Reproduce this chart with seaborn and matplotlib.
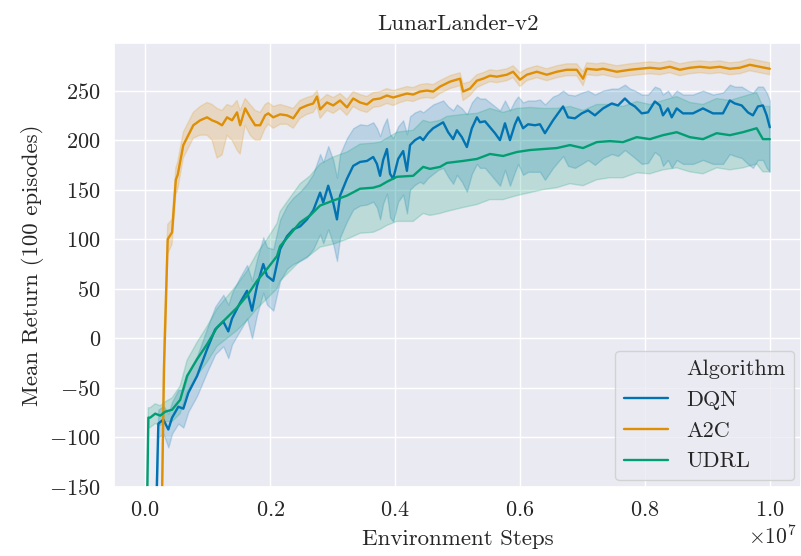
import numpy as np
import pandas as pd
import matplotlib
matplotlib.use("Agg")
import matplotlib.pyplot as plt
from matplotlib.lines import Line2D
import seaborn as sns

# Environment steps (x 1e7) with mean return and band edges
dqn_steps = [0.000, 0.015, 0.021, 0.029, 0.037, 0.043, 0.053, 0.061, 0.069, 0.083,
             0.099, 0.112, 0.125, 0.133, 0.139, 0.152, 0.163, 0.171, 0.179, 0.189,
             0.195, 0.205, 0.216, 0.227, 0.237, 0.248, 0.259, 0.269, 0.280, 0.285,
             0.293, 0.301, 0.307, 0.312, 0.323, 0.333, 0.344, 0.355, 0.365, 0.371,
             0.376, 0.381, 0.387, 0.392, 0.397, 0.405, 0.413, 0.419, 0.424, 0.432,
             0.440, 0.445, 0.453, 0.461, 0.469, 0.477, 0.485, 0.493, 0.499, 0.507,
             0.515, 0.523, 0.531, 0.536, 0.544, 0.552, 0.560, 0.568, 0.576, 0.584,
             0.592, 0.597, 0.605, 0.613, 0.624, 0.632, 0.640, 0.653, 0.661, 0.669,
             0.677, 0.688, 0.699, 0.709, 0.720, 0.733, 0.747, 0.757, 0.768, 0.776,
             0.784, 0.795, 0.805, 0.816, 0.824, 0.829, 0.837, 0.843, 0.851, 0.861,
             0.877, 0.893, 0.909, 0.925, 0.936, 0.944, 0.955, 0.965, 0.973, 0.981,
             0.989, 0.995, 1.000]
dqn_mean = [-260, -240, -86, -82, -92, -80, -69, -71, -55, -38,
            -11, 9, 17, 7, 20, 36, 48, 28, 53, 75,
            63, 58, 90, 103, 110, 113, 120, 129, 147, 137,
            154, 137, 120, 144, 161, 174, 178, 179, 183, 176,
            164, 180, 191, 166, 161, 181, 189, 169, 195, 200,
            203, 200, 207, 212, 215, 218, 208, 201, 210, 203,
            193, 212, 223, 218, 219, 213, 207, 200, 217, 200,
            216, 223, 212, 216, 215, 216, 207, 220, 227, 234,
            223, 222, 227, 230, 225, 232, 237, 235, 242, 237,
            234, 227, 228, 239, 235, 225, 232, 223, 232, 227,
            227, 232, 227, 227, 240, 237, 235, 228, 225, 234,
            235, 225, 213]
dqn_low = [-300, -280, -100, -96, -110, -96, -86, -90, -74, -58,
           -34, -16, -8, -20, -6, 8, 20, 0, 24, 46,
           34, 28, 58, 70, 75, 78, 82, 90, 105, 96,
           110, 95, 78, 102, 118, 130, 134, 135, 138, 132,
           120, 136, 146, 122, 118, 138, 145, 126, 150, 155,
           158, 156, 162, 166, 170, 172, 163, 156, 165, 158,
           148, 166, 176, 172, 172, 166, 160, 154, 170, 154,
           168, 176, 165, 168, 168, 168, 160, 172, 178, 184,
           174, 172, 176, 180, 175, 182, 186, 184, 190, 186,
           182, 176, 177, 188, 184, 174, 180, 172, 180, 176,
           176, 180, 176, 176, 186, 184, 182, 176, 172, 180,
           180, 172, 168]
dqn_high = [-220, -200, -72, -68, -76, -64, -52, -52, -36, -18,
            10, 32, 44, 34, 46, 62, 74, 58, 80, 102,
            92, 90, 120, 134, 142, 148, 156, 166, 186, 178,
            194, 180, 162, 186, 202, 212, 216, 215, 218, 212,
            204, 214, 222, 206, 202, 214, 220, 206, 224, 228,
            230, 228, 232, 236, 238, 240, 234, 230, 236, 232,
            226, 238, 244, 242, 242, 238, 234, 230, 240, 230,
            240, 244, 238, 240, 240, 241, 236, 244, 246, 250,
            246, 245, 248, 250, 246, 250, 252, 252, 256, 252,
            250, 246, 246, 254, 252, 246, 250, 244, 250, 246,
            246, 250, 246, 248, 256, 254, 254, 250, 248, 254,
            254, 248, 240]

a2c_steps = [0.000, 0.025, 0.030, 0.036, 0.043, 0.049, 0.052, 0.061, 0.069, 0.077,
             0.088, 0.099, 0.107, 0.115, 0.123, 0.131, 0.139, 0.147, 0.152, 0.160,
             0.168, 0.176, 0.184, 0.192, 0.197, 0.205, 0.216, 0.227, 0.237, 0.248,
             0.259, 0.269, 0.275, 0.280, 0.291, 0.301, 0.312, 0.323, 0.333, 0.344,
             0.355, 0.365, 0.376, 0.387, 0.397, 0.408, 0.419, 0.429, 0.440, 0.451,
             0.461, 0.472, 0.488, 0.504, 0.509, 0.520, 0.531, 0.541, 0.552, 0.563,
             0.579, 0.589, 0.600, 0.611, 0.627, 0.643, 0.659, 0.675, 0.691, 0.701,
             0.707, 0.723, 0.733, 0.755, 0.776, 0.792, 0.808, 0.824, 0.840, 0.856,
             0.872, 0.888, 0.904, 0.920, 0.936, 0.952, 0.968, 0.984, 1.000]
a2c_mean = [-320, -240, -30, 100, 107, 160, 165, 195, 205, 215,
            220, 223, 220, 218, 215, 223, 220, 228, 215, 232,
            223, 215, 215, 225, 227, 223, 226, 225, 222, 232,
            235, 237, 244, 231, 238, 235, 240, 233, 242, 238,
            236, 241, 242, 245, 243, 245, 247, 246, 249, 250,
            249, 254, 259, 262, 249, 252, 260, 262, 265, 264,
            266, 269, 261, 266, 269, 266, 269, 271, 271, 262,
            272, 271, 272, 269, 271, 272, 273, 272, 274, 271,
            273, 274, 273, 274, 272, 273, 276, 274, 272]
a2c_low = [-340, -260, -60, 85, 95, 145, 150, 182, 192, 202,
           205, 205, 200, 182, 185, 205, 200, 190, 186, 215,
           205, 200, 200, 212, 216, 212, 216, 216, 212, 222,
           226, 228, 234, 222, 230, 227, 232, 225, 234, 230,
           228, 233, 234, 237, 235, 238, 240, 239, 242, 243,
           242, 247, 252, 255, 240, 245, 253, 256, 259, 258,
           260, 263, 254, 260, 263, 260, 263, 265, 265, 255,
           266, 265, 266, 263, 265, 266, 267, 266, 268, 265,
           267, 268, 267, 268, 266, 267, 270, 268, 266]
a2c_high = [-300, -220, 0, 115, 120, 172, 178, 208, 218, 228,
            234, 238, 236, 232, 230, 236, 234, 240, 230, 242,
            236, 230, 228, 236, 238, 234, 236, 234, 232, 240,
            243, 245, 250, 240, 246, 243, 247, 241, 249, 246,
            244, 248, 249, 252, 250, 252, 254, 253, 256, 257,
            256, 260, 265, 268, 257, 259, 266, 268, 271, 270,
            272, 275, 268, 272, 275, 272, 275, 277, 277, 269,
            278, 277, 278, 275, 277, 278, 279, 278, 280, 277,
            279, 280, 279, 280, 278, 279, 282, 280, 278]

udrl_steps = [0.000, 0.005, 0.008, 0.016, 0.024, 0.032, 0.043, 0.056, 0.067, 0.083,
              0.099, 0.115, 0.131, 0.147, 0.163, 0.179, 0.195, 0.211, 0.216, 0.232,
              0.248, 0.264, 0.280, 0.301, 0.323, 0.344, 0.365, 0.376, 0.387, 0.403,
              0.429, 0.445, 0.456, 0.472, 0.483, 0.509, 0.531, 0.552, 0.573, 0.595,
              0.616, 0.637, 0.659, 0.680, 0.701, 0.723, 0.744, 0.765, 0.787, 0.808,
              0.829, 0.851, 0.872, 0.893, 0.915, 0.936, 0.957, 0.979, 0.989, 1.000]
udrl_mean = [-300, -80, -80, -76, -78, -74, -72, -62, -38, -21,
             -6, 11, 21, 31, 43, 58, 70, 83, 93, 105,
             117, 124, 134, 139, 144, 151, 152, 154, 158, 163,
             164, 173, 171, 173, 177, 179, 181, 186, 184, 188,
             190, 191, 192, 195, 192, 198, 199, 198, 203, 201,
             205, 208, 203, 201, 207, 205, 208, 212, 201, 201]
udrl_low = [-340, -90, -90, -86, -88, -84, -84, -76, -54, -38,
            -24, -8, 0, 8, 18, 30, 40, 50, 58, 68,
            78, 84, 92, 95, 100, 106, 107, 110, 114, 118,
            118, 126, 124, 126, 128, 132, 135, 140, 140, 144,
            147, 150, 152, 156, 154, 160, 162, 162, 167, 166,
            170, 172, 168, 166, 172, 170, 172, 176, 168, 168]
udrl_high = [-260, -70, -70, -66, -68, -64, -60, -48, -22, -4,
             12, 30, 42, 54, 68, 86, 100, 116, 128, 142,
             156, 164, 176, 183, 188, 196, 197, 198, 202, 208,
             210, 220, 218, 220, 224, 226, 227, 232, 228, 232,
             233, 232, 232, 234, 230, 236, 236, 234, 239, 236,
             240, 244, 238, 236, 242, 240, 244, 248, 234, 234]

algorithms = ["DQN", "A2C", "UDRL"]

sns.set_theme(style="darkgrid", palette="colorblind")
plt.rcParams["font.family"] = ["cmr10", "DejaVu Serif"]
plt.rcParams["mathtext.fontset"] = "cm"
plt.rcParams["axes.formatter.use_mathtext"] = True
plt.rcParams["font.size"] = 16

# Long-form table: low / mean / high per step, so median + full range gives line and band
frames = []
for name, steps, lo, mid, hi in [
    ("DQN", dqn_steps, dqn_low, dqn_mean, dqn_high),
    ("A2C", a2c_steps, a2c_low, a2c_mean, a2c_high),
    ("UDRL", udrl_steps, udrl_low, udrl_mean, udrl_high),
]:
    steps = np.asarray(steps) * 1e7
    for vals in (lo, mid, hi):
        frames.append(pd.DataFrame({"Environment Steps": steps,
                                    "Mean Return": vals,
                                    "Algorithm": name}))
df = pd.concat(frames, ignore_index=True)

fig = plt.figure(figsize=(8.01, 5.56), dpi=100)
ax = fig.add_axes([114 / 801, 69 / 556, 687 / 801, 444 / 556])

sns.lineplot(data=df, x="Environment Steps", y="Mean Return", hue="Algorithm",
             hue_order=algorithms, estimator="median", errorbar=("pi", 100),
             linewidth=1.7, ax=ax, legend=False)

ax.set_ylim(-150, 298)
ax.set_yticks([-150, -100, -50, 0, 50, 100, 150, 200, 250])
ax.set_xticks([0, 0.2e7, 0.4e7, 0.6e7, 0.8e7, 1.0e7])
ax.tick_params(labelsize=16)
ax.set_title("LunarLander-v2", fontsize=16.5, pad=9)
ax.set_xlabel("Environment Steps", fontsize=16.5, labelpad=7)
ax.set_ylabel("Mean Return (100 episodes)", fontsize=16.5)
offset = ax.xaxis.get_offset_text()
offset.set_fontsize(15.5)
offset.set_x(0.993)

# old-style legend: the hue title sits in the label column
colors = sns.color_palette("colorblind")[:3]
handles = [Line2D([], [], color="none")] + [Line2D([], [], color=c, lw=1.7) for c in colors]
labels = ["Algorithm"] + algorithms
ax.legend(handles, labels, loc="lower right", fontsize=16, borderaxespad=0.3)

fig.savefig("out.png", dpi=100)
